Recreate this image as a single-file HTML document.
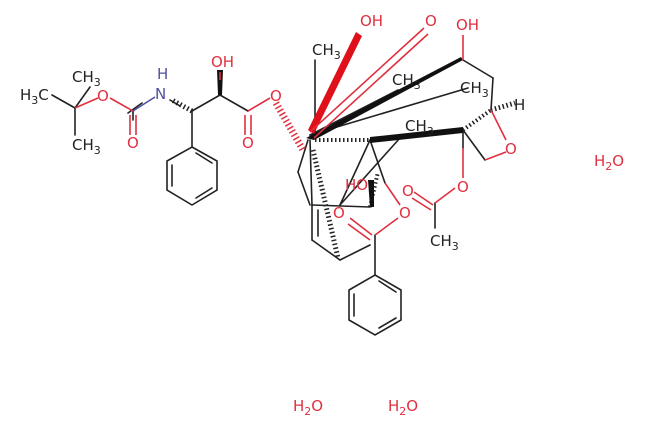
<!DOCTYPE html>
<html><head><style>body{margin:0;background:#fff}svg{display:block}text{font-family:"DejaVu Sans","Liberation Sans",sans-serif;font-size:15px}</style></head><body>
<svg width="650" height="433" viewBox="0 0 650 433" xmlns="http://www.w3.org/2000/svg">
<g stroke="#222" stroke-width="1.6" fill="none" stroke-linecap="round">
<!-- tBu -->
<line x1="52" y1="95" x2="75" y2="108"/><line x1="75" y1="108" x2="75" y2="135"/><line x1="75" y1="108" x2="90" y2="87"/>
<line x1="128" y1="113" x2="142" y2="103"/><line x1="133" y1="111" x2="133" y2="120" stroke="#222"/>
<line x1="170" y1="100" x2="180" y2="106" stroke="#222"/>
<line x1="192" y1="111" x2="220" y2="95"/><line x1="220" y1="95" x2="248" y2="111"/>
<line x1="192" y1="111" x2="192" y2="147"/>
<polygon points="192,147 217,161 217,190 192,205 167,190 167,161"/>
<line x1="196" y1="153" x2="212" y2="163"/><line x1="212" y1="188" x2="196" y2="198"/><line x1="172" y1="186" x2="172" y2="165"/>
<!-- core -->
<line x1="315" y1="60" x2="315" y2="135"/>
<line x1="310" y1="135" x2="468" y2="88"/>
<line x1="310" y1="135" x2="398" y2="90"/>
<line x1="463" y1="60" x2="493" y2="78"/><line x1="493" y1="78" x2="491" y2="110"/>
<line x1="485" y1="160" x2="463" y2="130"/>
<line x1="308" y1="140" x2="298" y2="172"/><line x1="298" y1="172" x2="310" y2="205"/>
<line x1="310" y1="140" x2="312" y2="205"/>
<line x1="312" y1="205" x2="370" y2="207"/>
<line x1="340" y1="205" x2="370" y2="140"/><line x1="340" y1="205" x2="400" y2="138"/>
<line x1="370" y1="140" x2="385" y2="183"/>
<line x1="370" y1="140" x2="463" y2="130"/>
<line x1="312" y1="205" x2="312" y2="240"/><line x1="318" y1="210" x2="318" y2="236"/>
<line x1="312" y1="240" x2="340" y2="260"/><line x1="340" y1="260" x2="370" y2="245"/>
<line x1="375" y1="235" x2="375" y2="275"/>
<line x1="463" y1="148" x2="463" y2="130"/>
<line x1="435" y1="203" x2="435" y2="228"/>
<polygon points="375,275 401,290 401,320 375,335 349,320 349,290"/>
<line x1="379" y1="281" x2="396" y2="292"/><line x1="396" y1="318" x2="379" y2="328"/><line x1="354" y1="316" x2="354" y2="294"/>
</g>
<!-- hashes -->
<g stroke="#222" stroke-width="1.5">
<line x1="313" y1="150" x2="338" y2="258" stroke-dasharray="1.5 2.5" stroke-width="5"/>
<line x1="315" y1="140" x2="370" y2="140" stroke-dasharray="1.5 2.5" stroke-width="4"/>
<line x1="491" y1="110" x2="515" y2="103" stroke-dasharray="1.5 2.5" stroke-width="5"/>
<line x1="463" y1="130" x2="491" y2="110" stroke-dasharray="1.5 2.5" stroke-width="4"/>
<line x1="370" y1="207" x2="378" y2="172" stroke-dasharray="1.5 2.5" stroke-width="4"/>
<line x1="192" y1="111" x2="172" y2="100" stroke-dasharray="1.5 2.5" stroke-width="5"/>
</g>
<line x1="276" y1="103" x2="303" y2="150" stroke="#e03040" stroke-width="7" stroke-dasharray="1.5 2.5"/>
<polygon points="306,138 314,140 463,60 461,57" fill="#111"/>
<polygon points="370,137 370,143 463,133 463,127" fill="#111"/>
<polygon points="308,130 314,134 362,36 356,32" fill="#e0101a"/>
<polygon points="218,95 222,95 223,70 217,70" fill="#111"/>
<polygon points="370,207 374,207 374,180 368,180" fill="#111"/>
<g stroke="#e03040" stroke-width="1.6" fill="none">
<line x1="75" y1="108" x2="98" y2="98"/><line x1="110" y1="98" x2="133" y2="111"/>
<line x1="130" y1="115" x2="130" y2="135"/><line x1="136" y1="115" x2="136" y2="135"/>
<line x1="133" y1="111" x2="155" y2="97" stroke="#5050a0"/>
<line x1="220" y1="80" x2="220" y2="72"/>
<line x1="245" y1="115" x2="245" y2="135"/><line x1="251" y1="115" x2="251" y2="135"/>
<line x1="248" y1="111" x2="270" y2="98"/>
<line x1="310" y1="132" x2="424" y2="28"/><line x1="314" y1="138" x2="428" y2="34"/>
<line x1="463" y1="35" x2="463" y2="60"/>
<line x1="491" y1="110" x2="506" y2="140"/><line x1="506" y1="152" x2="485" y2="160"/>
<line x1="463" y1="148" x2="463" y2="178"/>
<line x1="455" y1="188" x2="435" y2="203"/>
<line x1="414" y1="192" x2="433" y2="205"/><line x1="412" y1="198" x2="431" y2="210"/>
<line x1="375" y1="235" x2="398" y2="218"/>
<line x1="350" y1="218" x2="372" y2="235"/><line x1="348" y1="224" x2="370" y2="240"/>
<line x1="385" y1="183" x2="400" y2="205"/>
</g>
<g fill="#222">
<text x="20" y="100">H<tspan font-size="11" dy="4">3</tspan><tspan dy="-4">C</tspan></text>
<text x="72" y="82">CH<tspan font-size="11" dy="4">3</tspan></text>
<text x="72" y="150">CH<tspan font-size="11" dy="4">3</tspan></text>
<text x="312" y="55">CH<tspan font-size="11" dy="4">3</tspan></text>
<text x="392" y="85">CH<tspan font-size="11" dy="4">3</tspan></text>
<text x="460" y="93">CH<tspan font-size="11" dy="4">3</tspan></text>
<text x="405" y="131">CH<tspan font-size="11" dy="4">3</tspan></text>
<text x="430" y="246">CH<tspan font-size="11" dy="4">3</tspan></text>
<text x="514" y="110">H</text>
</g>
<g fill="#5050a0"><text x="155" y="99">N</text><text x="157" y="79">H</text></g>
<g fill="#e03040">
<text x="97" y="101">O</text><text x="127" y="148">O</text>
<text x="211" y="67">OH</text>
<text x="242" y="148">O</text><text x="270" y="101">O</text>
<text x="360" y="26">OH</text><text x="425" y="26">O</text><text x="456" y="30">OH</text>
<text x="505" y="154">O</text><text x="457" y="192">O</text>
<text x="402" y="196">O</text><text x="399" y="218">O</text>
<text x="345" y="190">HO</text><text x="333" y="218">O</text>
<text x="594" y="166">H<tspan font-size="11" dy="4">2</tspan><tspan dy="-4">O</tspan></text>
<text x="293" y="411">H<tspan font-size="11" dy="4">2</tspan><tspan dy="-4">O</tspan></text>
<text x="388" y="411">H<tspan font-size="11" dy="4">2</tspan><tspan dy="-4">O</tspan></text>
</g>
</svg>
</body></html>
